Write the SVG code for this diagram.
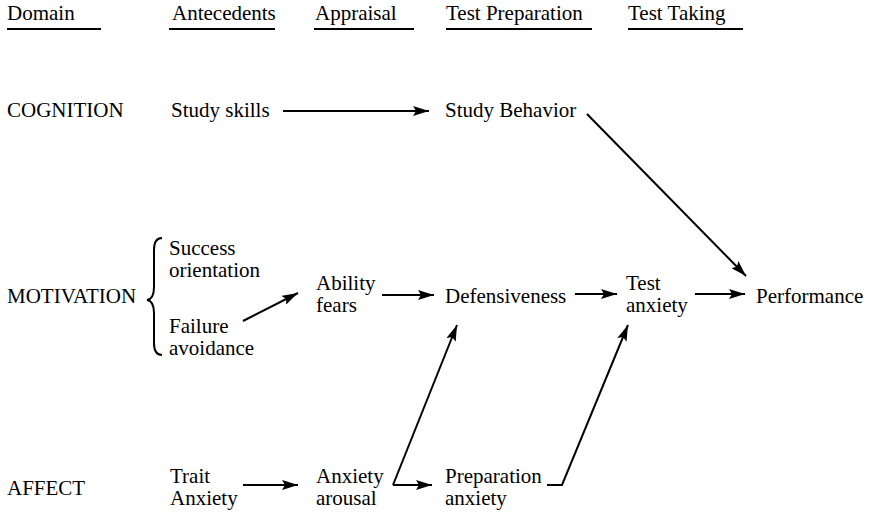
<svg xmlns="http://www.w3.org/2000/svg" width="871" height="514" viewBox="0 0 871 514">
  <style>
    text { font-family: "Liberation Serif", "Times New Roman", serif; font-size: 21px; fill: #000; }
    .ul { stroke: #000; stroke-width: 2; }
    .conn { stroke: #000; stroke-width: 2; fill: none; }
  </style>
  <defs>
    <marker id="arrow" viewBox="0 0 16 10" refX="16" refY="5" markerWidth="16" markerHeight="10" markerUnits="userSpaceOnUse" orient="auto">
      <path d="M0,0 L16,5 L0,10 L3,5 Z" fill="#000"/>
    </marker>
  </defs>

  <!-- column headers -->
  <g id="headers">
    <text x="7" y="20">Domain</text>
    <line class="ul" x1="7" y1="29" x2="101" y2="29"/>
    <text x="172" y="20">Antecedents</text>
    <line class="ul" x1="169" y1="29" x2="275" y2="29"/>
    <text x="315" y="20">Appraisal</text>
    <line class="ul" x1="314" y1="29" x2="414" y2="29"/>
    <text x="446" y="20">Test Preparation</text>
    <line class="ul" x1="446" y1="29" x2="592" y2="29"/>
    <text x="628" y="20">Test Taking</text>
    <line class="ul" x1="628" y1="29" x2="743" y2="29"/>
  </g>

  <!-- domain labels -->
  <g id="domains">
    <text x="7" y="117">COGNITION</text>
    <text x="7" y="303">MOTIVATION</text>
    <text x="7" y="495">AFFECT</text>
  </g>

  <g id="study-skills"><text x="171" y="117">Study skills</text></g>
  <g id="study-behavior"><text x="445" y="117">Study Behavior</text></g>

  <g id="motivation-antecedents">
    <path class="conn" d="M162,238 Q154,238 154,250 L154,287 Q154,299 147,300 Q154,301 154,313 L154,343 Q154,355 162,355"/>
    <text x="169" y="255">Success</text>
    <text x="169" y="277">orientation</text>
    <text x="169" y="333">Failure</text>
    <text x="169" y="355">avoidance</text>
  </g>

  <g id="ability-fears">
    <text x="316" y="290">Ability</text>
    <text x="316" y="312">fears</text>
  </g>
  <g id="defensiveness"><text x="445" y="303">Defensiveness</text></g>
  <g id="test-anxiety">
    <text x="626" y="290">Test</text>
    <text x="626" y="312">anxiety</text>
  </g>
  <g id="performance"><text x="756" y="303">Performance</text></g>

  <g id="trait-anxiety">
    <text x="170" y="483">Trait</text>
    <text x="170" y="505">Anxiety</text>
  </g>
  <g id="anxiety-arousal">
    <text x="316" y="483">Anxiety</text>
    <text x="316" y="505">arousal</text>
  </g>
  <g id="preparation-anxiety">
    <text x="445" y="483">Preparation</text>
    <text x="445" y="505">anxiety</text>
  </g>

  <!-- connectors -->
  <g id="connectors">
    <line class="conn" x1="283" y1="111" x2="429" y2="111" marker-end="url(#arrow)"/>
    <line class="conn" x1="587" y1="114" x2="746" y2="276" marker-end="url(#arrow)"/>
    <line class="conn" x1="243" y1="321" x2="298" y2="293" marker-end="url(#arrow)"/>
    <line class="conn" x1="382" y1="295" x2="434" y2="295" marker-end="url(#arrow)"/>
    <line class="conn" x1="575" y1="294" x2="617" y2="294" marker-end="url(#arrow)"/>
    <line class="conn" x1="695" y1="294" x2="745" y2="294" marker-end="url(#arrow)"/>
    <line class="conn" x1="243" y1="485" x2="298" y2="485" marker-end="url(#arrow)"/>
    <path class="conn" d="M393,485 L457,325" marker-end="url(#arrow)"/>
    <path class="conn" d="M393,485 L432,485" marker-end="url(#arrow)"/>
    <path class="conn" d="M547,485 L562,485 L628,325" marker-end="url(#arrow)"/>
  </g>
</svg>
